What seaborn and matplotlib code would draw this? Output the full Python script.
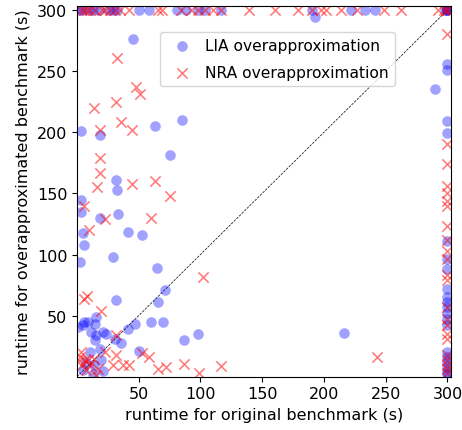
import numpy as np
import matplotlib
matplotlib.use("Agg")
import matplotlib.pyplot as plt
import seaborn as sns

timeout = 300

# LIA overapproximation: (original runtime, overapproximated runtime)
lia_x = [1.6, 4, 9.7, 13, 17.7, 25.8, 29, 32.5, 50, 58, 81, 88, 98, 104, 117, 190, 222, 233, 241, 300, 300, 300,
         193,
         300, 300, 300, 300, 300, 300, 300, 300, 300, 300, 300, 300, 300, 300, 300, 300, 300, 300, 300, 300, 290, 298,
         216, 98, 86.5, 45.4,
         3, 19, 63, 85, 75.5, 31.5, 32.5, 3, 3.5, 19, 33, 5, 41, 53, 5.6, 2.4, 29, 65, 71.5,
         32, 65.6, 69.6, 60, 47, 41, 36, 31, 50, 15.7, 4.9, 9, 14.3, 11.7, 15.7, 21, 23.6, 14.3, 18.4,
         10.3, 19.8, 7.6, 13.5, 4.9, 21, 13, 1, 6]
lia_y = [300, 300, 300, 300, 300, 300, 300, 300, 300, 300, 300, 300, 300, 300, 300, 300, 300, 300, 300, 300, 300, 300,
         294,
         256, 251, 209, 199, 111, 96, 88, 72, 65.5, 61, 57, 52, 47.5, 42, 20, 16, 12, 8, 4, 2, 235, 300,
         36, 35, 30, 276,
         201, 198, 205, 210, 181.6, 161, 153, 145, 135, 130, 133, 118, 118.5, 116, 108, 94, 98, 89, 71,
         62.6, 61, 45, 44.5, 43, 39, 28, 31, 21, 48.9, 42, 44.8, 43.4, 36.6, 33.8, 36.6, 35.2, 29.7, 23,
         20.3, 13.4, 12, 9.3, 5.2, 5, 2.5, 41, 45]

# NRA overapproximation
nra_x = [3, 6, 8, 11, 15, 20, 23, 27, 31, 35, 42, 66, 69, 84, 92, 98, 104, 110.5, 117, 139, 160, 179, 190, 198,
         202, 214, 227, 249, 262, 292, 297, 300, 300,
         300, 300, 300, 300, 300, 300, 300, 300, 300, 300, 300, 300, 300, 300, 300, 300, 300, 300, 300, 300, 300,
         300, 300,
         48, 50.8, 32.7, 14, 31.5, 35.7, 44.6, 18.3, 18.3, 19, 16, 44.6, 63, 75.5, 5.4, 23, 60, 9.7, 102,
         8.3, 5.6, 19.8, 32, 52.7, 58, 66, 72, 86.5, 99, 117, 42, 37.6, 29.5, 22.4, 32, 2.2, 1, 4.9, 8.9,
         7.6, 11, 13.5, 17, 15.7, 243, 3, 6.4]
nra_y = [300, 300, 300, 300, 300, 300, 300, 300, 300, 300, 300, 300, 300, 300, 300, 300, 300, 300, 300, 300, 300,
         300, 300, 300, 300, 300, 300, 300, 300, 300, 300, 300, 300,
         280, 190.6, 174, 156, 150, 144, 140, 123.7, 112, 103, 96.5, 83, 79, 57, 47.5, 42, 35, 31, 18, 14, 10,
         6, 3,
         237, 231, 260.7, 220, 225, 208, 202, 202, 179, 166.5, 155, 158, 160, 147.6, 139.6, 128.7, 129.8, 120, 82,
         66, 64, 54, 33.8, 19.8, 16.5, 6, 7.8, 10.5, 3.4, 9, 9.3, 9.3, 9.3, 20.3, 17.5, 16, 12, 10.4, 13.4,
         5.2, 9.3, 14.7, 6.7, 1.1, 16.5, 20, 14]

fig = plt.figure(figsize=(4.62, 4.31), dpi=100)
ax = fig.add_axes([0.167, 0.124, 0.8085, 0.859])

sns.scatterplot(x=lia_x, y=lia_y, ax=ax, color="blue", alpha=0.37, s=58, marker="o",
                linewidth=0, label="LIA overapproximation")
sns.scatterplot(x=nra_x, y=nra_y, ax=ax, color="red", alpha=0.5, s=55, marker="x",
                linewidth=1.2, label="NRA overapproximation")

# diagonal reference
ax.plot([0, timeout], [0, timeout], color="black", linestyle="--", linewidth=0.5, zorder=0)

ax.set_xlim(0.2, 302.6)
ax.set_ylim(0.2, 303)
ax.set_xticks([50, 100, 150, 200, 250, 300])
ax.set_yticks([50, 100, 150, 200, 250, 300])
ax.tick_params(labelsize=11.5)
ax.set_xlabel("runtime for original benchmark (s)", fontsize=11.5)
ax.set_ylabel("runtime for overapproximated benchmark (s)", fontsize=11.5)

ax.legend(loc="upper left", bbox_to_anchor=(0.222, 0.931), borderaxespad=0, fontsize=11.2,
          labelspacing=0.75, handletextpad=0.5)

plt.savefig("out.png", dpi=100)
